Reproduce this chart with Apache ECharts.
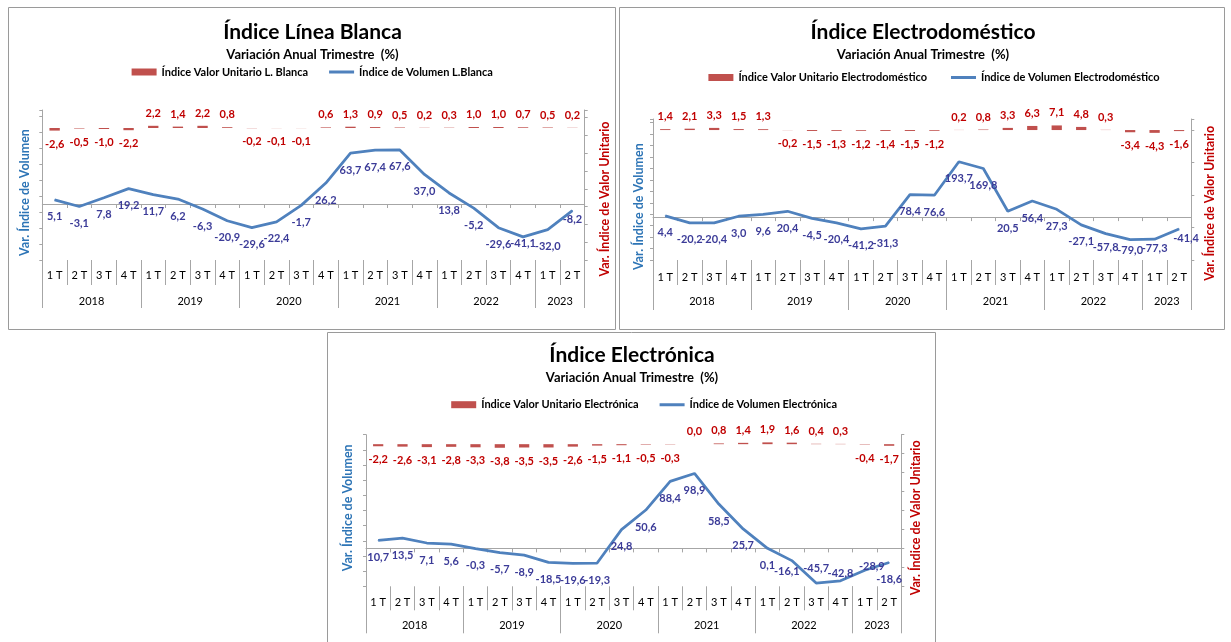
<!DOCTYPE html>
<html><head><meta charset="utf-8">
<script src="https://cdn.jsdelivr.net/npm/echarts@6/dist/echarts.min.js"></script>
<style>html,body{margin:0;padding:0;background:#fff}#c{width:1231px;height:642px}</style>
</head><body><div id="c"></div><script>
// ---------- DATA ----------
const quarters = ['1 T','2 T','3 T','4 T','1 T','2 T','3 T','4 T','1 T','2 T','3 T','4 T','1 T','2 T','3 T','4 T','1 T','2 T','3 T','4 T','1 T','2 T'];
const years = ['2018','2019','2020','2021','2022','2023'];
const quartersPerYear = [4,4,4,4,4,2];
const subtitleText = 'Variación Anual Trimestre  (%)';
const leftAxisTitle = 'Var. Índice de Volumen';
const rightAxisTitle = 'Var. Índice de Valor Unitario';

const lbTitle = 'Índice Línea Blanca';
const lbBarName = 'Índice Valor Unitario L. Blanca';
const lbLineName = 'Índice de Volumen L.Blanca';
const lbValorUnitario = [-2.6,-0.5,-1.0,-2.2, 2.2,1.4,2.2,0.8, -0.2,-0.1,-0.1,0.6, 1.3,0.9,0.5,0.2, 0.3,1.0,1.0,0.7, 0.5,0.2];
const lbVolumen = [5.1,-3.1,7.8,19.2, 11.7,6.2,-6.3,-20.9, -29.6,-22.4,-1.7,26.2, 63.7,67.4,67.6,37.0, 13.8,-5.2,-29.6,-41.1, -32.0,-8.2];

const edTitle = 'Índice Electrodoméstico';
const edBarName = 'Índice Valor Unitario Electrodoméstico';
const edLineName = 'Índice de Volumen Electrodoméstico';
const edValorUnitario = [1.4,2.1,3.3,1.5, 1.3,-0.2,-1.5,-1.3, -1.2,-1.4,-1.5,-1.2, 0.2,0.8,3.3,6.3, 7.1,4.8,0.3,-3.4, -4.3,-1.6];
const edVolumen = [4.4,-20.2,-20.4,3.0, 9.6,20.4,-4.5,-20.4, -41.2,-31.3,78.4,76.6, 193.7,169.8,20.5,56.4, 27.3,-27.1,-57.8,-79.0, -77.3,-41.4];

const elTitle = 'Índice Electrónica';
const elBarName = 'Índice Valor Unitario Electrónica';
const elLineName = 'Índice de Volumen Electrónica';
const elValorUnitario = [-2.2,-2.6,-3.1,-2.8, -3.3,-3.8,-3.5,-3.5, -2.6,-1.5,-1.1,-0.5, -0.3,0.0,0.8,1.4, 1.9,1.6,0.4,0.3, -0.4,-1.7];
const elVolumen = [10.7,13.5,7.1,5.6, -0.3,-5.7,-8.9,-18.5, -19.6,-19.3,24.8,50.6, 88.4,98.9,58.5,25.7, 0.1,-16.1,-45.7,-42.8, -28.9,-18.6];

// ---------- LAYOUT / STYLE ----------
const FONT = 'Lato, "Liberation Sans", sans-serif';
const layouts = [
  {grid:{left:42.3, top:110, width:542.4, height:150}, yL:{min:-70,max:117.5,interval:20}, yR:{min:-132,max:18,interval:17.8},
   qMargin:9.5, yMargin:35.5, qTick:25, yTick:48, titleX:312.5, titleTop:19, subGap:3, legendX:131.6, legendTop:66.5, legendGap:21,
   leftName:[25,192.5], rightName:[605,199], border:[8.5,7.5,607,322],
   labelTweaks:{19:{distance:1}, 21:{distance:3}}},
  {grid:{left:653, top:119, width:538.3, height:141}, yL:{min:-150,max:343,interval:40}, yR:{min:-200,max:17,interval:50},
   qMargin:11.5, yMargin:36, qTick:25, yTick:50, titleX:923, titleTop:19, subGap:3, legendX:708.4, legendTop:72, legendGap:24,
   leftName:[638.7,206.7], rightName:[1210,203.3], border:[619.5,7.5,605,322],
   labelTweaks:{18:{distance:8}, 19:{distance:5}, 20:{distance:3}, 21:{distance:4, offset:[7,0]}}},
  {grid:{left:366, top:434.7, width:535.3, height:151.6}, yL:{min:-50,max:150,interval:20}, yR:{min:-150,max:10,interval:20},
   qMargin:10.8, yMargin:33.5, qTick:24, yTick:47, titleX:632, titleTop:342, subGap:2.7, legendX:451.2, legendTop:399.2, legendGap:21,
   leftName:[347.7,507.8], rightName:[915.7,517.8], border:[327.5,332.5,608,320],
   labelTweaks:{17:{distance:5, offset:[-5,0]}, 18:{position:'top', distance:9}, 19:{position:'top', distance:1}, 20:{position:'top', distance:-2, offset:[7,0]}}}
];
const panels = [
  {title: lbTitle, barName: lbBarName, lineName: lbLineName, bars: lbValorUnitario, line: lbVolumen},
  {title: edTitle, barName: edBarName, lineName: edLineName, bars: edValorUnitario, line: edVolumen},
  {title: elTitle, barName: elBarName, lineName: elLineName, bars: elValorUnitario, line: elVolumen}
];

const fmt = v => v.toFixed(1).replace('.', ',');
// year axis: half-quarter slots so year labels can sit at group centres
const nSlots = quarters.length * 2 + 1;
const yearSlots = new Array(nSlots).fill('');
const yearBoundary = new Set([0]);
(function(){ let q = 0; years.forEach((y,i)=>{ yearSlots[2*q + quartersPerYear[i]] = y; q += quartersPerYear[i]; yearBoundary.add(2*q); }); })();
const dataCats = quarters.map((q,i)=> 'c' + i);

const GRAY = '#A6A6A6';
const linePath = 'path://M0,0L25,0L25,0.01L0,0.01Z M0,2H25V5H0Z M0,6.99L25,6.99L25,7L0,7Z';

const option = {animation:false, backgroundColor:'#fff', title:[], legend:[], grid:[], xAxis:[], yAxis:[], series:[], graphic:[]};

panels.forEach((p, k) => {
  const L = layouts[k];
  option.title.push({text: p.title, subtext: subtitleText, left: L.titleX, top: L.titleTop, textAlign:'center', padding:0, itemGap: L.subGap,
    textStyle:{fontFamily:FONT, fontSize:21, fontWeight:'bold', color:'#000', lineHeight:26},
    subtextStyle:{fontFamily:FONT, fontSize:13, fontWeight:'bold', color:'#000', lineHeight:14}});
  option.legend.push({left: L.legendX, top: L.legendTop, padding:0, itemWidth:25, itemHeight:7, itemGap:L.legendGap, selectedMode:false,
    textStyle:{fontFamily:FONT, fontSize:11, fontWeight:'bold', color:'#000'},
    data:[{name:p.barName, icon:'rect'}, {name:p.lineName, icon:linePath}]});
  option.grid.push(Object.assign({containLabel:false, outerBoundsMode:'none'}, L.grid));
  const yBase = {type:'value', gridIndex:k, axisLine:{show:true, onZero:false, lineStyle:{color:GRAY}}, axisTick:{show:true, length:3, lineStyle:{color:GRAY}},
    axisLabel:{show:false}, splitLine:{show:false}};
  option.yAxis.push(Object.assign({}, yBase, {position:'left'}, L.yL));
  option.yAxis.push(Object.assign({}, yBase, {position:'right'}, L.yR));
  option.xAxis.push({type:'category', gridIndex:k, data:dataCats, position:'bottom',
    axisLine:{show:true, onZero:true, onZeroAxisIndex:2*k, lineStyle:{color:GRAY}},
    axisTick:{show:true, length:4, interval:0, lineStyle:{color:GRAY}}, axisLabel:{show:false}, splitLine:{show:false}});
  option.xAxis.push({type:'category', gridIndex:k, data:quarters, position:'bottom',
    axisLine:{show:false, onZero:false}, axisTick:{show:true, length:L.qTick, interval:0, lineStyle:{color:GRAY}},
    axisLabel:{show:true, interval:0, margin:L.qMargin, fontFamily:FONT, fontSize:11, color:'#000'}, splitLine:{show:false}});
  option.xAxis.push({type:'category', gridIndex:k, data:yearSlots, position:'bottom', boundaryGap:false,
    axisLine:{show:false, onZero:false}, axisTick:{show:true, length:L.yTick, interval:(i)=>yearBoundary.has(i), lineStyle:{color:GRAY}},
    axisLabel:{show:true, interval:(i,v)=>v!=='', margin:L.yMargin, fontFamily:FONT, fontSize:11, color:'#000'}, splitLine:{show:false}});
  option.series.push({type:'bar', name:p.barName, xAxisIndex:3*k, yAxisIndex:2*k+1, barWidth:'42%',
    itemStyle:{color:'#C0504D'},
    label:{show:true, formatter:(d)=>fmt(d.value), color:'#C00000', fontFamily:FONT, fontWeight:'bold', fontSize:11},
    data:p.bars.map(v => ({value:v, label:{position: v >= 0 ? 'top' : 'bottom', distance: v >= 0 ? 7 : 8}}))});
  option.series.push({type:'line', name:p.lineName, xAxisIndex:3*k, yAxisIndex:2*k, z:3,
    symbol:'circle', symbolSize:1, lineStyle:{color:'#4F81BD', width:2.75}, itemStyle:{color:'#4F81BD'},
    label:{show:true, position:'bottom', distance:11, formatter:(d)=>fmt(d.value), color:'#3B3B98', fontFamily:FONT, fontWeight:'bold', fontSize:11},
    data:p.line.map((v,i) => L.labelTweaks[i] ? {value:v, label:L.labelTweaks[i]} : v)});
  option.graphic.push({type:'rect', silent:true, z:-1, shape:{x:L.border[0], y:L.border[1], width:L.border[2], height:L.border[3]},
    style:{fill:'none', stroke:'#9A9A9A', lineWidth:1}});
  option.graphic.push({type:'text', silent:true, x:L.leftName[0], y:L.leftName[1], rotation:Math.PI/2,
    style:{text:leftAxisTitle, align:'center', verticalAlign:'middle', textAlign:'center', textVerticalAlign:'middle', fill:'#2E75B6', font:'bold 12.5px ' + FONT}});
  option.graphic.push({type:'text', silent:true, x:L.rightName[0], y:L.rightName[1], rotation:Math.PI/2,
    style:{text:rightAxisTitle, align:'center', verticalAlign:'middle', textAlign:'center', textVerticalAlign:'middle', fill:'#C00000', font:'bold 12.5px ' + FONT}});
});

const chart = echarts.init(document.getElementById('c'), null, {renderer:'canvas'});
chart.setOption(option);
</script></body></html>
